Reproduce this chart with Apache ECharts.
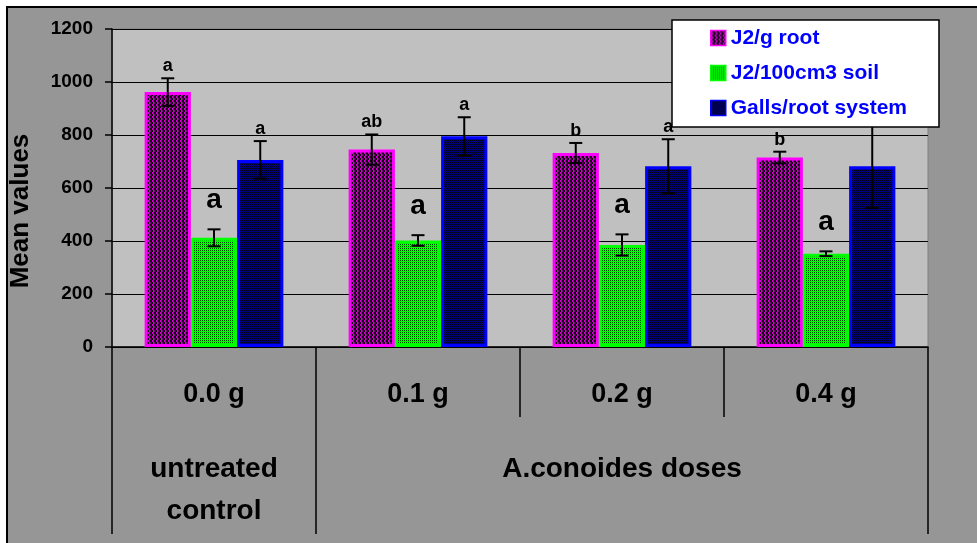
<!DOCTYPE html>
<html>
<head>
<meta charset="utf-8">
<script src="https://cdn.jsdelivr.net/npm/echarts@6/dist/echarts.min.js"></script>
<style>html,body{margin:0;padding:0;background:#fff}#c{width:977px;height:543px}</style>
</head>
<body>
<div id="c"></div>
<script>
// ---- data ----
var doses = ['0.0 g', '0.1 g', '0.2 g', '0.4 g'];
var groupLabels = ['untreated\ncontrol', '', 'A.conoides doses', ''];
var seriesNames = ['J2/g root', 'J2/100cm3 soil', 'Galls/root system'];
var j2Root = [962, 745, 732, 715];
var j2RootErr = [52, 57, 38, 22];
var j2RootLetters = ['a', 'ab', 'b', 'b'];
var j2Soil = [412, 402, 385, 352];
var j2SoilErr = [32, 20, 40, 9];
var j2SoilLetters = ['a', 'a', 'a', 'a'];
var galls = [706, 795, 682, 682];
var gallsErr = [71, 72, 102, 158];
var gallsLetters = ['a', 'a', 'a', 'a'];
var yTicks = [0, 200, 400, 600, 800, 1000, 1200];

var FONT = '"Liberation Sans", Arial, Helvetica, sans-serif';
var CAT_GAP = 0.32;

function makePattern(kind) {
  var c = document.createElement('canvas');
  var ctx, y;
  if (kind === 'magenta') {
    c.width = 4; c.height = 4;
    ctx = c.getContext('2d');
    ctx.fillStyle = '#100010';
    ctx.fillRect(0, 0, 4, 4);
    for (y = 0; y < 4; y++) {
      var sh = Math.floor(y / 2);
      ctx.fillStyle = '#d400d4';
      ctx.fillRect(sh % 4, y, 1, 1);
      ctx.fillStyle = '#8a008a';
      ctx.fillRect((sh + 1) % 4, y, 1, 1);
    }
  } else if (kind === 'green') {
    c.width = 2; c.height = 2;
    ctx = c.getContext('2d');
    ctx.fillStyle = '#00ff00';
    ctx.fillRect(0, 0, 2, 2);
    ctx.fillStyle = '#005000';
    ctx.fillRect(0, 0, 1, 1);
  } else {
    c.width = 2; c.height = 2;
    ctx = c.getContext('2d');
    ctx.fillStyle = '#000088';
    ctx.fillRect(0, 0, 2, 2);
    ctx.fillStyle = '#000018';
    ctx.fillRect(0, 0, 1, 1);
    ctx.fillRect(1, 1, 1, 1);
  }
  return { image: c, repeat: 'repeat' };
}

var fills = [makePattern('magenta'), makePattern('green'), makePattern('blue')];
var borders = ['#ff00ff', '#00ff00', '#0000ff'];
var values = [j2Root, j2Soil, galls];
var errs = [j2RootErr, j2SoilErr, gallsErr];
var letters = [j2RootLetters, j2SoilLetters, gallsLetters];
var letterSize = [18, 28, 18];
var letterLift = [3, 15, 3];

function errRenderer(sIdx) {
  return function (params, api) {
    var i = api.value(0), v = api.value(1), e = api.value(2);
    var band = api.size([1, 0])[0];
    var bw = band * (1 - CAT_GAP) / 3;
    var cx = api.coord([i, v])[0] + (sIdx - 1) * bw;
    var top = api.coord([i, v + e])[1];
    var bot = api.coord([i, v - e])[1];
    var cap = 6.5;
    var ls = { stroke: '#000', lineWidth: 2 };
    var children = [
      { type: 'line', shape: { x1: cx, y1: top, x2: cx, y2: bot }, style: ls },
      { type: 'line', shape: { x1: cx - cap, y1: top, x2: cx + cap, y2: top }, style: ls },
      { type: 'line', shape: { x1: cx - cap, y1: bot, x2: cx + cap, y2: bot }, style: ls }
    ];
    var txt = letters[sIdx][params.dataIndex];
    if (txt) {
      children.push({
        type: 'text',
        style: {
          x: cx, y: top - letterLift[sIdx], text: txt,
          fill: '#000', font: 'bold ' + letterSize[sIdx] + 'px ' + FONT,
          textAlign: 'center', textVerticalAlign: 'bottom'
        }
      });
    }
    return { type: 'group', children: children };
  };
}

var series = [];
for (var s = 0; s < 3; s++) {
  series.push({
    name: seriesNames[s],
    type: 'bar',
    xAxisIndex: 0,
    data: values[s],
    barCategoryGap: (CAT_GAP * 100) + '%',
    barGap: '0%',
    itemStyle: { color: fills[s], borderColor: borders[s], borderWidth: 3 },
    emphasis: { disabled: true },
    animation: false
  });
}
for (var s2 = 0; s2 < 3; s2++) {
  series.push({
    name: 'err' + s2,
    type: 'custom',
    xAxisIndex: 0,
    renderItem: errRenderer(s2),
    encode: { x: 0, y: 1 },
    data: values[s2].map(function (v, i) { return [i, v, errs[s2][i]]; }),
    z: 3,
    animation: false,
    silent: true
  });
}

var chart = echarts.init(document.getElementById('c'), null, { renderer: 'canvas' });
chart.setOption({
  animation: false,
  backgroundColor: '#ffffff',
  textStyle: { fontFamily: FONT },
  graphic: [{
    type: 'rect', z: -10, silent: true,
    shape: { x: 7, y: 7, width: 980, height: 545 },
    style: { fill: '#969696', stroke: '#000', lineWidth: 2 }
  }],
  grid: {
    left: 111, right: 49, top: 29, bottom: 196,
    show: true, backgroundColor: '#c0c0c0', borderColor: '#808080', borderWidth: 1
  },
  legend: {
    data: seriesNames,
    orient: 'vertical',
    left: 672, top: 20,
    padding: [6, 32, 7, 38],
    itemGap: 11,
    itemWidth: 15, itemHeight: 15,
    icon: 'rect',
    itemStyle: { borderWidth: 1.5 },
    backgroundColor: '#ffffff',
    borderColor: '#000000', borderWidth: 1.5,
    textStyle: { color: '#0000ff', fontWeight: 'bold', fontSize: 21, fontFamily: FONT, lineHeight: 24 },
    selectedMode: false
  },
  xAxis: [{
    type: 'category',
    data: doses,
    position: 'bottom',
    axisLine: { show: true, lineStyle: { color: '#000', width: 1.5 } },
    axisTick: { show: true, interval: 0, length: 70, lineStyle: { color: '#000', width: 1.5 } },
    axisLabel: { interval: 0, margin: 33, color: '#000', fontWeight: 'bold', fontSize: 27, lineHeight: 30, fontFamily: FONT },
    splitLine: { show: false }
  }, {
    type: 'category',
    data: doses,
    position: 'bottom',
    axisLine: { show: false },
    axisTick: {
      show: true, length: 187,
      interval: function (idx) { return idx <= 1; },
      lineStyle: { color: '#000', width: 1.5 }
    },
    axisLabel: {
      interval: 0, margin: 101, color: '#000', fontWeight: 'bold', fontSize: 28, lineHeight: 42, fontFamily: FONT,
      formatter: function (v, i) { return groupLabels[i]; }
    },
    splitLine: { show: false }
  }],
  yAxis: {
    type: 'value',
    min: yTicks[0], max: yTicks[yTicks.length - 1], interval: 200,
    name: 'Mean values',
    nameLocation: 'middle',
    nameGap: 78,
    nameRotate: 90,
    nameTextStyle: { color: '#000', fontWeight: 'bold', fontSize: 26, fontFamily: FONT, padding: [0, 46, 0, 0] },
    axisLine: { show: true, lineStyle: { color: '#000', width: 1.5 } },
    axisTick: { show: true, length: 7, lineStyle: { color: '#000', width: 1.5 } },
    axisLabel: {
      margin: 19, color: '#000', fontWeight: 'bold', fontSize: 19, fontFamily: FONT,
      formatter: function (v) { return String(v); }
    },
    splitLine: { show: true, lineStyle: { color: '#000', width: 1.2 } }
  },
  series: series
});
</script>
</body>
</html>
